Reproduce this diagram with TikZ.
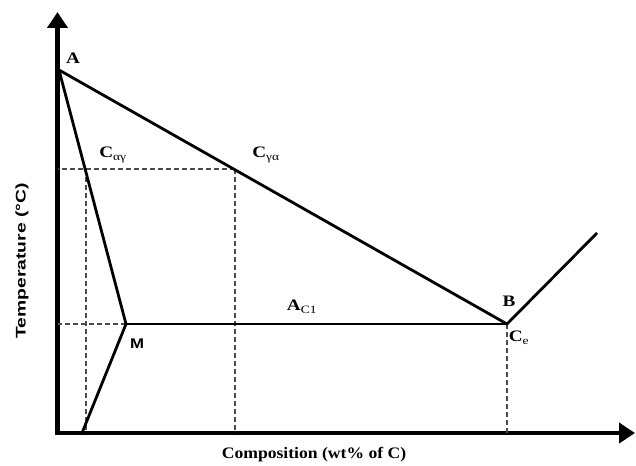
\documentclass[tikz,border=0pt]{standalone}
\usepackage{fontspec}
\usepackage{graphicx}
\setmainfont{Liberation Serif}
\setsansfont{Liberation Sans}
\usetikzlibrary{positioning, arrows.meta}

\newcommand{\widen}[2][1.2]{\scalebox{#1}[1]{#2}}
\newcommand{\sub}[1]{\textsubscript{\mdseries #1}}

\begin{document}
\begin{tikzpicture}[
  x=1pt, y=-1pt,
  axis/.style={line width=4.2pt, line join=miter,
    {Triangle[length=16pt,width=20pt]}-{Triangle[length=16pt,width=20pt]}},
  curve/.style={line width=2.8pt, line join=miter},
  guide/.style={line width=1.1pt, black!70, dash pattern=on 5pt off 3pt},
  lbl/.style={font=\fontsize{16}{16}\selectfont\bfseries, inner sep=1pt},
  slbl/.style={font=\fontsize{14}{14}\selectfont\sffamily\bfseries, inner sep=1pt}
]
  \useasboundingbox (0,0) rectangle (636,465);

  % axes
  \coordinate (O) at (57.5,433);
  \coordinate (ytop) at (57.5,12);
  \coordinate (xend) at (635,433);
  \draw[axis] (ytop) -- (O) -- (xend);

  % phase boundaries
  \coordinate (A) at (59,70);
  \coordinate (M) at (126,324);
  \coordinate (B) at (507,324);
  \coordinate (R) at (597,233);
  \coordinate (Mb) at (82,433);
  \coordinate (Cag) at (86,169);
  \coordinate (Cga) at (235,169);

  \draw[guide] (Cga) -- (Cga -| O);
  \draw[guide] (Cga) -- (Cga |- O);
  \draw[guide] (Cag) -- (Cag |- O);
  \draw[guide] (M) -- (M -| O);
  \draw[guide] (B) -- (B |- O);

  \draw[curve] (A) -- (B) -- (R);
  \draw[curve] (A) -- (M) -- (Mb);
  \draw[curve] (M) -- (B);

  % labels
  \node[lbl] (labA) at (73,58) {\widen{A}};
  \node[lbl] (labB) at (509,301) {\widen{B}};
  \node[lbl] (labCag) at (113,155) {\widen{C\sub{αγ}}};
  \node[lbl] (labCga) at (266,155) {\widen{C\sub{γα}}};
  \node[lbl] (labAc) at (302,307) {\widen{A\sub{C1}}};
  \node[lbl] (labCe) at (519,338) {\widen{C\sub{e}}};
  \node[slbl] (labM) at (137,344) {\widen{M}};
  \node[lbl] (xlab) at (314,455) {\widen[1.1]{Composition (wt\% of C)}};
  \node[slbl, rotate=90] (ylab) at (22,261) {\widen[1.38]{Temperature (°C)}};
\end{tikzpicture}
\end{document}
